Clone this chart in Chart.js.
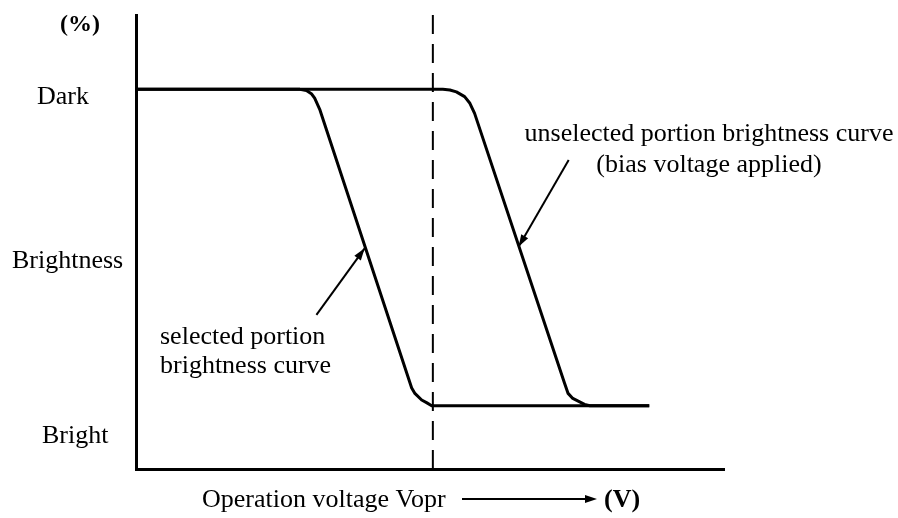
<!DOCTYPE html>
<html><head><meta charset="utf-8">
<script src="https://cdn.jsdelivr.net/npm/chart.js@4"></script>
<style>html,body{margin:0;padding:0;background:#fff}#wrap{width:898px;height:518px;position:relative}</style>
</head><body><div id="wrap"><canvas id="c" width="898" height="518"></canvas></div>
<script>
// ---- data (voltage in arbitrary units, brightness in %: Dark = 100, Bright = 0) ----
const yLevelLabels = ['Dark', 'Brightness', 'Bright'];
const yUnitLabel = '(%)';
const xAxisTitle = 'Operation voltage Vopr';
const xUnitLabel = '(V)';
const selectedLabel = ['selected portion', 'brightness curve'];
const unselectedLabel = ['unselected portion brightness curve', '(bias voltage applied)'];

const vopr = 5.04;
const voprLineY = [123.5, -20];

const selectedX = [0, 2.69, 2.78, 2.89, 2.98, 3.03, 3.12, 4.68, 4.73, 4.85, 4.94, 5.02, 8.72];
const selectedY = [100, 100, 100, 99.6, 98.5, 97.2, 93.5, 5.6, 4.0, 1.8, 0.9, 0, 0];

const unselectedX = [0, 5.21, 5.33, 5.44, 5.58, 5.67, 5.75, 7.28, 7.34, 7.42, 7.62, 7.71, 8.72];
const unselectedY = [100, 100, 99.8, 99.2, 97.7, 95.6, 92.4, 7.1, 3.9, 2.3, 0.4, 0, 0];

const selectedArrowX = [3.06, 3.88];
const selectedArrowY = [28.7, 49.75];
const unselectedArrowX = [7.35, 6.50];
const unselectedArrowY = [77.7, 50.3];

const pts = (xs, ys) => xs.map((x, i) => ({x: x, y: ys[i]}));

function drawHead(ctx, x0, y0, x1, y1, len, half) {
  const a = Math.atan2(y1 - y0, x1 - x0);
  ctx.beginPath();
  ctx.moveTo(x1, y1);
  ctx.lineTo(x1 - len * Math.cos(a) + half * Math.sin(a), y1 - len * Math.sin(a) - half * Math.cos(a));
  ctx.lineTo(x1 - len * Math.cos(a) - half * Math.sin(a), y1 - len * Math.sin(a) + half * Math.cos(a));
  ctx.closePath();
  ctx.fill();
}

const annotate = {
  id: 'annotate',
  afterDatasetsDraw(chart) {
    const ctx = chart.ctx;
    ctx.save();
    ctx.fillStyle = '#000';
    ctx.strokeStyle = '#000';
    chart.data.datasets.forEach((ds, i) => {
      if (!ds.arrowHead) return;
      const p = chart.getDatasetMeta(i).data;
      const a = p[p.length - 2], b = p[p.length - 1];
      drawHead(ctx, a.x, a.y, b.x, b.y, 12, 4);
    });
    const reg = '26px "Liberation Serif", "Times New Roman", serif';
    const bold = 'bold 24px "Liberation Serif", "Times New Roman", serif';
    ctx.textBaseline = 'alphabetic';
    ctx.textAlign = 'left';
    ctx.font = bold;
    ctx.fillText(yUnitLabel, 60, 31);
    ctx.font = reg;
    ctx.fillText(yLevelLabels[0], 37, 104);
    ctx.fillText(yLevelLabels[1], 12, 268);
    ctx.fillText(yLevelLabels[2], 42, 443);
    ctx.fillText(selectedLabel[0], 160, 344);
    ctx.fillText(selectedLabel[1], 160, 373);
    ctx.textAlign = 'center';
    ctx.fillText(unselectedLabel[0], 709, 141);
    ctx.fillText(unselectedLabel[1], 709, 172);
    ctx.textAlign = 'left';
    ctx.fillText(xAxisTitle, 202, 507);
    ctx.lineWidth = 2;
    ctx.beginPath();
    ctx.moveTo(462, 499);
    ctx.lineTo(588, 499);
    ctx.stroke();
    drawHead(ctx, 462, 499, 597, 499, 12, 4);
    ctx.font = 'bold 26px "Liberation Serif", "Times New Roman", serif';
    ctx.fillText(xUnitLabel, 604, 507);
    ctx.restore();
  }
};

new Chart(document.getElementById('c'), {
  type: 'line',
  data: {
    datasets: [
      {data: pts([vopr, vopr], voprLineY), borderColor: '#000', borderWidth: 2, borderDash: [19, 10], pointRadius: 0},
      {data: pts(selectedX, selectedY), borderColor: '#000', borderWidth: 3, pointRadius: 0, borderJoinStyle: 'round'},
      {data: pts(unselectedX, unselectedY), borderColor: '#000', borderWidth: 3, pointRadius: 0, borderJoinStyle: 'round'},
      {data: pts(selectedArrowX, selectedArrowY), borderColor: '#000', borderWidth: 2, pointRadius: 0, arrowHead: true},
      {data: pts(unselectedArrowX, unselectedArrowY), borderColor: '#000', borderWidth: 2, pointRadius: 0, arrowHead: true}
    ]
  },
  options: {
    responsive: false,
    devicePixelRatio: 1,
    animation: false,
    events: [],
    layout: {padding: {left: 136.5, right: 173.5, top: 15, bottom: 49}},
    plugins: {legend: {display: false}, tooltip: {enabled: false}, title: {display: false}},
    elements: {line: {tension: 0}},
    scales: {
      x: {type: 'linear', min: 0, max: 10,
          grid: {display: false, drawTicks: false}, ticks: {display: false},
          border: {display: true, color: '#000', width: 3}},
      y: {type: 'linear', min: -20, max: 123.5,
          grid: {display: false, drawTicks: false}, ticks: {display: false},
          border: {display: true, color: '#000', width: 3}}
    }
  },
  plugins: [annotate]
});
</script>
</body></html>
